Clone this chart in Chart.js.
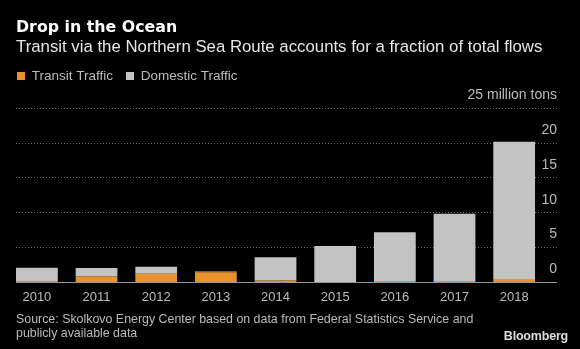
<!DOCTYPE html>
<html>
<head>
<meta charset="utf-8">
<script src="https://cdn.jsdelivr.net/npm/chart.js@4.4.0/dist/chart.umd.min.js"></script>
<style>
  html, body { margin: 0; padding: 0; background: #000; }
  .wrap { position: relative; width: 580px; height: 349px; }
  canvas { display: block; }
  .source { position: absolute; left: 16px; top: 312px; font: 12.4px/14px 'Liberation Sans', Arial, sans-serif; color: #bbb; }
  .logo { position: absolute; right: 12px; top: 329px; font: bold 12.5px/14px 'Liberation Sans', Arial, sans-serif; color: #ddd; letter-spacing: -0.2px; }
</style>
</head>
<body>
<div class="wrap">
  <canvas id="chart" width="580" height="349"></canvas>
  <div class="source">Source: Skolkovo Energy Center based on data from Federal Statistics Service and<br>publicly available data</div>
  <div class="logo">Bloomberg</div>
</div>
<script>
// dados (milhões de toneladas)
const years = ['2010', '2011', '2012', '2013', '2014', '2015', '2016', '2017', '2018'];
const transit = [0.1, 0.86, 1.24, 1.45, 0.27, 0.04, 0.2, 0.2, 0.5];
const domestic = [2.0, 1.2, 1.0, 0.12, 3.35, 5.2, 7.0, 9.67, 19.7];
const yMax = 25;
const yStep = 5;
const yUnit = 'million tons';

const FONT = "'Liberation Sans', Arial, sans-serif";
const ORANGE = '#e8922d';
const GREY = '#c3c3c3';

// legenda: mais espaço embaixo e alinhada com o título
const legendSpacing = {
  id: 'legendSpacing',
  beforeInit(chart) {
    const fit = chart.legend.fit;
    chart.legend.fit = function () {
      fit.call(this);
      this.height += 15.6;
    };
  },
  afterLayout(chart) {
    chart.legend.left -= 12;
  }
};

const isZero = c => c.tick && c.tick.value === 0;

new Chart(document.getElementById('chart'), {
  type: 'bar',
  data: {
    datasets: [{
      label: 'Transit Traffic',
      data: transit.map((v, i) => ({ x: i, y: v })),
      backgroundColor: ORANGE,
      borderWidth: 0,
      barPercentage: 0.7,
      categoryPercentage: 1
    }, {
      label: 'Domestic Traffic',
      data: domestic.map((v, i) => ({ x: i, y: v })),
      backgroundColor: GREY,
      borderWidth: 0,
      barPercentage: 0.7,
      categoryPercentage: 1
    }]
  },
  options: {
    responsive: false,
    animation: false,
    layout: { padding: { top: 0, left: 16, right: 23, bottom: 37 } },
    plugins: {
      title: {
        display: true,
        text: 'Drop in the Ocean',
        align: 'start',
        color: '#ffffff',
        font: { family: "'DejaVu Sans', sans-serif", size: 15.8, weight: 'bold', lineHeight: 1.2 },
        padding: { top: 18.4, bottom: 0 }
      },
      subtitle: {
        display: true,
        text: 'Transit via the Northern Sea Route accounts for a fraction of total flows',
        align: 'start',
        color: '#e6e6e6',
        font: { family: FONT, size: 16.8, lineHeight: 1 },
        padding: { top: 2, bottom: 0 }
      },
      legend: {
        align: 'start',
        labels: {
          boxWidth: 8,
          boxHeight: 8,
          padding: 13,
          color: '#bbbbbb',
          font: { family: FONT, size: 13.5 }
        }
      },
      tooltip: { enabled: false }
    },
    scales: {
      x: {
        type: 'linear',
        stacked: true,
        offset: false,
        min: -0.35,
        max: years.length - 0.5,
        grid: { display: false, drawTicks: false, offset: false },
        border: { display: true, color: '#999999', width: 1 },
        ticks: {
          stepSize: 1,
          includeBounds: false,
          autoSkip: false,
          maxRotation: 0,
          padding: 7,
          color: '#bbbbbb',
          font: { family: FONT, size: 13 },
          callback: v => Number.isInteger(v) ? years[v] : null
        }
      },
      y: {
        position: 'right',
        stacked: true,
        min: 0,
        max: yMax,
        afterFit(scale) { scale.width = 13; },
        border: { display: false, dash: [1, 2] },
        grid: {
          color: c => isZero(c) ? 'rgba(0,0,0,0)' : '#6a6a6a',
          tickLength: 13,
          tickColor: c => isZero(c) ? '#999999' : '#6a6a6a',
          tickBorderDash: c => isZero(c) ? [] : [1, 2]
        },
        ticks: {
          stepSize: yStep,
          mirror: true,
          padding: 13,
          labelOffset: -13,
          color: '#bbbbbb',
          font: { family: FONT, size: 14 },
          callback: v => v === yMax ? v + ' ' + yUnit : v
        }
      }
    }
  },
  plugins: [legendSpacing]
});
</script>
</body>
</html>
